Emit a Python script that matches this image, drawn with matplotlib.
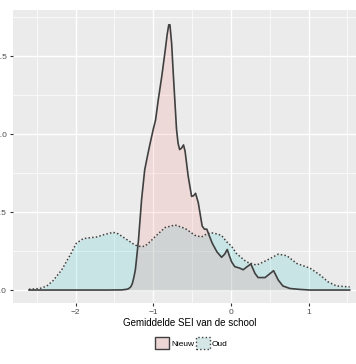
import matplotlib.pyplot as plt
from matplotlib.patches import Patch

plt.rcParams['font.family'] = ['Liberation Sans', 'DejaVu Sans']

# dichtheid
x_nieuw = [-2.6, -1.6, -1.40, -1.34, -1.32, -1.29, -1.27, -1.25, -1.23, -1.19, -1.15,
           -1.11, -1.07, -1.04, -1.00, -0.97, -0.935, -0.89, -0.85, -0.82, -0.80,
           -0.785, -0.763, -0.74, -0.72, -0.70, -0.68, -0.66, -0.635, -0.61, -0.59,
           -0.55, -0.506, -0.48, -0.455, -0.42, -0.37, -0.34, -0.31, -0.28, -0.24,
           -0.18, -0.12, -0.08, -0.047, -0.02, 0.01, 0.05, 0.116, 0.158, 0.21, 0.257,
           0.31, 0.35, 0.44, 0.49, 0.55, 0.61, 0.67, 0.76, 0.89, 1.02, 1.53]
y_nieuw = [0, 0, 0.001, 0.005, 0.008, 0.02, 0.04, 0.08, 0.13, 0.32, 0.58,
           0.77, 0.87, 0.94, 1.03, 1.09, 1.22, 1.37, 1.52, 1.64, 1.70,
           1.70, 1.58, 1.37, 1.20, 1.03, 0.94, 0.90, 0.91, 0.93, 0.89,
           0.73, 0.60, 0.605, 0.62, 0.56, 0.41, 0.39, 0.39, 0.35, 0.30,
           0.245, 0.21, 0.23, 0.26, 0.22, 0.18, 0.15, 0.14, 0.13, 0.15, 0.167,
           0.107, 0.08, 0.08, 0.10, 0.124, 0.064, 0.026, 0.01, 0.004, 0.0, 0.0]

x_oud = [-2.6, -2.46, -2.37, -2.29, -2.18, -2.07, -1.99, -1.90, -1.73, -1.62, -1.515,
         -1.45, -1.39, -1.30, -1.24, -1.19, -1.11, -1.04, -0.98, -0.85, -0.72, -0.59,
         -0.46, -0.38, -0.31, -0.25, -0.18, -0.12, -0.056, 0.01, 0.07, 0.20, 0.33,
         0.46, 0.61, 0.72, 0.85, 1.02, 1.15, 1.25, 1.36, 1.53]
y_oud = [0.005, 0.01, 0.026, 0.06, 0.128, 0.224, 0.30, 0.33, 0.34, 0.357, 0.37,
         0.36, 0.34, 0.31, 0.29, 0.28, 0.28, 0.31, 0.34, 0.40, 0.417, 0.395,
         0.35, 0.34, 0.36, 0.367, 0.36, 0.35, 0.31, 0.28, 0.235, 0.18, 0.16,
         0.19, 0.23, 0.22, 0.17, 0.14, 0.096, 0.053, 0.026, 0.02]

groepen = ['Nieuw', 'Oud']
kleuren = ['#F8766D', '#00BFC4']
x_ticks = [-2, -1, 0, 1]
y_ticks = [0.0, 0.5, 1.0, 1.5]

fig = plt.figure(figsize=(3.56, 3.64), dpi=100)
ax = fig.add_axes([0.0365, 0.1676, 0.9916, 0.805])
ax.set_facecolor('#EBEBEB')

ax.fill_between(x_oud, y_oud, color=kleuren[1], alpha=0.15, lw=0)
ax.plot(x_oud, y_oud, color='#404040', lw=1.1, ls=(0, (1, 1.4)))
ax.fill_between(x_nieuw, y_nieuw, color=kleuren[0], alpha=0.15, lw=0)
ax.plot(x_nieuw, y_nieuw, color='#404040', lw=1.2)

ax.set_xlim(-2.806, 1.74)
ax.set_ylim(-0.083, 1.795)
ax.set_xticks(x_ticks)
ax.set_xticklabels(['\u22122', '\u22121', '0', '1'])
ax.set_yticks(y_ticks)
ax.set_xticks([-2.5, -1.5, -0.5, 0.5, 1.5], minor=True)
ax.set_yticks([0.25, 0.75, 1.25, 1.75], minor=True)
ax.grid(which='major', color='white', lw=1.0)
ax.grid(which='minor', color='white', lw=0.5)
ax.set_axisbelow(True)
for s in ax.spines.values():
    s.set_visible(False)
ax.tick_params(which='major', length=2.5, color='#333333', labelsize=6, labelcolor='#4D4D4D', pad=2)
ax.tick_params(which='minor', length=0)
ax.set_xlabel('Gemiddelde SEI van de school', fontsize=7, labelpad=1.5)

handles = [Patch(facecolor=(0.93, 0.84, 0.84), edgecolor='#404040', lw=1.0),
           Patch(facecolor=(0.83, 0.90, 0.90), edgecolor='#404040', lw=1.0, ls=':')]
fig.legend(handles, groepen, loc='center', bbox_to_anchor=(0.537, 0.058), ncol=2,
           frameon=False, fontsize=6, handlelength=1.7, handleheight=1.7,
           handletextpad=0.2, columnspacing=0.2, borderpad=0)

fig.savefig('out.png', dpi=100)
